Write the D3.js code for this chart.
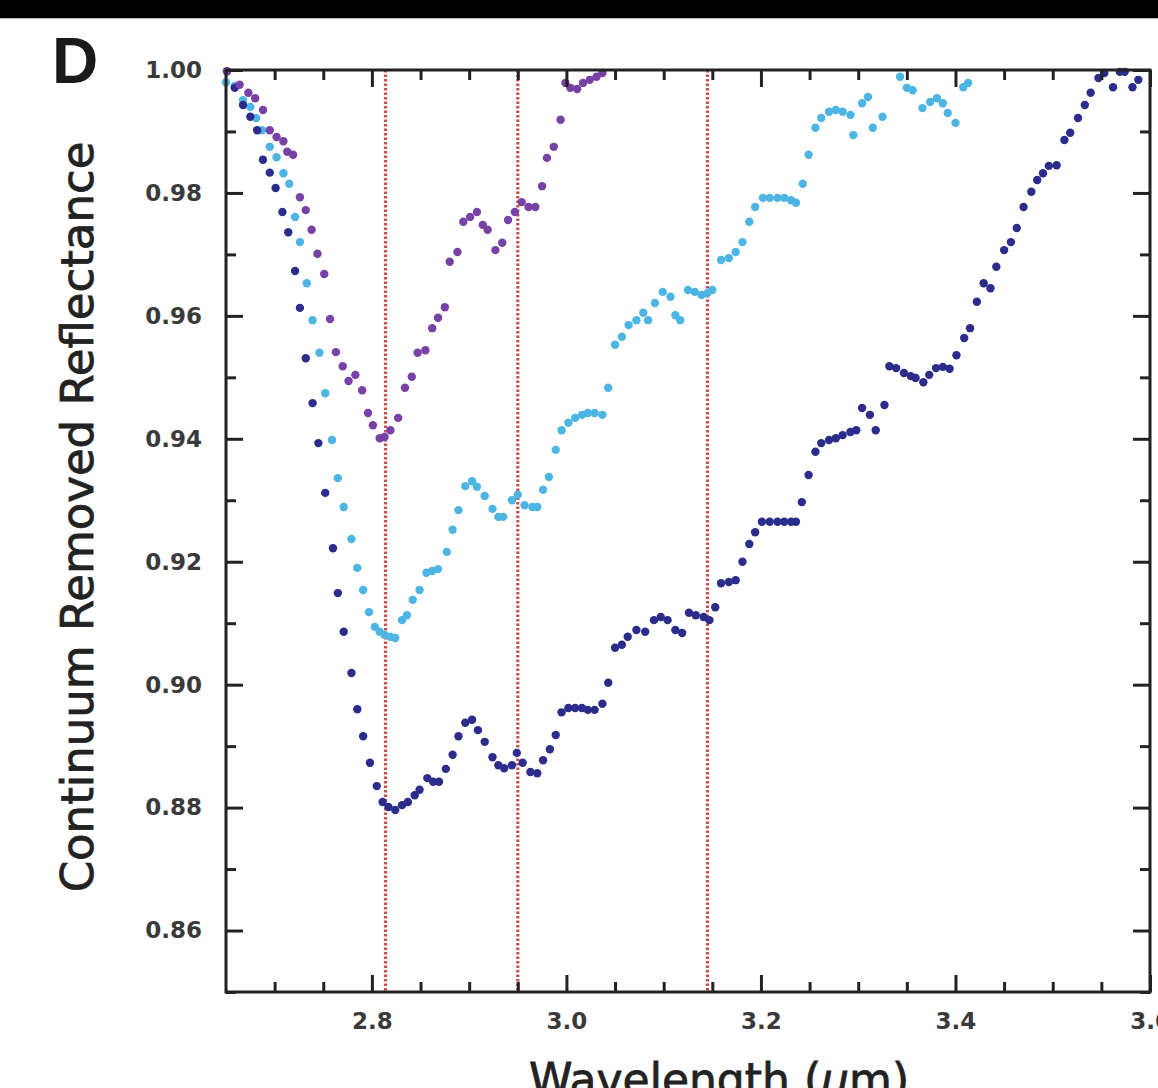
<!DOCTYPE html>
<html>
<head>
<meta charset="utf-8">
<script src="https://cdn.jsdelivr.net/npm/d3@7"></script>
<style>
  html, body { margin: 0; padding: 0; background: #ffffff; }
  svg { display: block; }
</style>
</head>
<body>
<div id="chart"></div>
<script>
// ---------- DATA ----------
const navyX = [2.651,2.659,2.6675,2.675,2.682,2.688,2.695,2.701,2.708,2.714,2.721,2.726,2.732,2.739,2.745,2.752,2.760,2.765,2.771,2.779,2.785,2.791,2.798,2.805,2.811,2.817,2.824,2.831,2.837,2.844,2.849,2.857,2.863,2.869,2.876,2.883,2.889,2.896,2.903,2.909,2.916,2.924,2.930,2.936,2.944,2.949,2.955,2.963,2.970,2.976,2.983,2.989,2.995,3.002,3.009,3.016,3.022,3.029,3.037,3.043,3.050,3.057,3.063,3.072,3.081,3.090,3.097,3.104,3.112,3.119,3.126,3.133,3.141,3.147,3.153,3.159,3.167,3.174,3.181,3.188,3.194,3.201,3.209,3.217,3.224,3.231,3.236,3.242,3.249,3.256,3.262,3.270,3.277,3.284,3.292,3.298,3.304,3.312,3.318,3.327,3.332,3.339,3.347,3.354,3.359,3.367,3.373,3.380,3.387,3.394,3.401,3.409,3.415,3.422,3.429,3.436,3.442,3.450,3.457,3.463,3.470,3.478,3.484,3.490,3.496,3.504,3.512,3.518,3.526,3.533,3.539,3.547,3.553,3.562,3.569,3.574,3.582,3.588];
const navyY = [0.9998,0.9971,0.9943,0.9924,0.9902,0.9854,0.9833,0.9808,0.9769,0.9736,0.9673,0.9613,0.9531,0.9458,0.9393,0.9312,0.9222,0.9149,0.9086,0.9019,0.8960,0.8916,0.8873,0.8835,0.8809,0.8801,0.8796,0.8804,0.8809,0.8820,0.8829,0.8848,0.8842,0.8842,0.8863,0.8886,0.8916,0.8938,0.8943,0.8926,0.8907,0.8882,0.8869,0.8864,0.8869,0.8889,0.8873,0.8858,0.8856,0.8877,0.8895,0.8918,0.8955,0.8962,0.8962,0.8962,0.8959,0.8959,0.8969,0.9003,0.9060,0.9065,0.9078,0.9089,0.9086,0.9105,0.9110,0.9105,0.9089,0.9084,0.9117,0.9113,0.9110,0.9105,0.9126,0.9165,0.9167,0.9170,0.9200,0.9229,0.9248,0.9265,0.9265,0.9265,0.9265,0.9265,0.9265,0.9297,0.9341,0.9379,0.9393,0.9398,0.9401,0.9406,0.9411,0.9414,0.9450,0.9439,0.9414,0.9455,0.9518,0.9515,0.9507,0.9502,0.9499,0.9492,0.9504,0.9515,0.9517,0.9514,0.9536,0.9564,0.9580,0.9623,0.9653,0.9645,0.9680,0.9707,0.9720,0.9743,0.9777,0.9802,0.9821,0.9832,0.9844,0.9845,0.9886,0.9898,0.9922,0.9943,0.9963,0.9987,0.9995,0.9972,0.9997,0.9997,0.9972,0.9984];

const cyanX = [2.650,2.659,2.6675,2.675,2.681,2.687,2.695,2.702,2.709,2.715,2.721,2.726,2.733,2.739,2.746,2.752,2.759,2.765,2.771,2.779,2.785,2.791,2.797,2.803,2.808,2.813,2.819,2.824,2.831,2.836,2.842,2.849,2.856,2.862,2.868,2.877,2.883,2.889,2.896,2.903,2.908,2.916,2.924,2.930,2.935,2.944,2.950,2.957,2.965,2.970,2.976,2.982,2.989,2.995,3.002,3.009,3.016,3.022,3.029,3.037,3.043,3.050,3.057,3.064,3.072,3.079,3.084,3.091,3.099,3.107,3.112,3.117,3.125,3.132,3.139,3.145,3.150,3.159,3.167,3.174,3.181,3.188,3.194,3.202,3.209,3.217,3.224,3.231,3.236,3.243,3.249,3.256,3.262,3.270,3.277,3.284,3.292,3.295,3.304,3.310,3.315,3.325,3.343,3.350,3.356,3.366,3.374,3.381,3.387,3.392,3.400,3.408,3.413];
const cyanY = [0.9980,0.9974,0.9951,0.9940,0.9922,0.9902,0.9875,0.9858,0.9832,0.9815,0.9761,0.9720,0.9653,0.9593,0.9540,0.9474,0.9398,0.9336,0.9289,0.9237,0.9190,0.9154,0.9118,0.9094,0.9086,0.9081,0.9078,0.9076,0.9105,0.9113,0.9138,0.9154,0.9182,0.9185,0.9188,0.9216,0.9252,0.9284,0.9323,0.9331,0.9322,0.9307,0.9286,0.9273,0.9273,0.9300,0.9309,0.9292,0.9289,0.9289,0.9317,0.9338,0.9382,0.9414,0.9426,0.9434,0.9439,0.9442,0.9442,0.9439,0.9483,0.9553,0.9566,0.9585,0.9593,0.9605,0.9593,0.9621,0.9639,0.9631,0.9601,0.9593,0.9642,0.9639,0.9634,0.9637,0.9642,0.9691,0.9694,0.9704,0.9720,0.9753,0.9777,0.9792,0.9792,0.9792,0.9792,0.9788,0.9784,0.9815,0.9862,0.9906,0.9922,0.9932,0.9935,0.9932,0.9927,0.9894,0.9946,0.9956,0.9906,0.9924,0.9989,0.9971,0.9967,0.9938,0.9948,0.9954,0.9946,0.9930,0.9914,0.9972,0.9979];

const purpleX = [2.651,2.664,2.673,2.680,2.688,2.695,2.702,2.709,2.713,2.719,2.726,2.732,2.738,2.744,2.751,2.757,2.763,2.770,2.776,2.783,2.790,2.796,2.801,2.808,2.813,2.819,2.827,2.834,2.841,2.847,2.855,2.862,2.868,2.875,2.880,2.888,2.894,2.901,2.908,2.914,2.919,2.927,2.934,2.940,2.947,2.954,2.961,2.968,2.975,2.980,2.987,2.994,2.999,3.004,3.011,3.017,3.024,3.031,3.037];
const purpleY = [0.9998,0.9976,0.9963,0.9954,0.9935,0.9902,0.9891,0.9884,0.9867,0.9862,0.9793,0.9772,0.9740,0.9701,0.9668,0.9595,0.9541,0.9518,0.9494,0.9504,0.9479,0.9442,0.9422,0.9401,0.9403,0.9414,0.9434,0.9483,0.9501,0.9540,0.9544,0.9580,0.9597,0.9614,0.9688,0.9704,0.9753,0.9761,0.9769,0.9748,0.9740,0.9707,0.9719,0.9756,0.9769,0.9785,0.9777,0.9777,0.9811,0.9857,0.9875,0.9919,0.9979,0.9971,0.9969,0.9979,0.9984,0.9989,0.9995];

const refLines = [2.814, 2.95, 3.145];

const xMajorTicks = [2.8, 3.0, 3.2, 3.4, 3.6];
const xMinorTicks = [2.70,2.75,2.85,2.90,2.95,3.05,3.10,3.15,3.25,3.30,3.35,3.45,3.50,3.55];
const yMajorTicks = [0.86, 0.88, 0.90, 0.92, 0.94, 0.96, 0.98, 1.00];
const yMinorTicks = [0.85, 0.87, 0.89, 0.91, 0.93, 0.95, 0.97, 0.99];

const seriesColors = { cyan: "#4db5e3", navy: "#2c2c8c", purple: "#7741a6" };

// ---------- LAYOUT ----------
const W = 1158, H = 1088;
const svg = d3.select("#chart").append("svg").attr("width", W).attr("height", H);

svg.append("rect").attr("x", 0).attr("y", 0).attr("width", W).attr("height", H).attr("fill", "#ffffff");
svg.append("rect").attr("x", 0).attr("y", 0).attr("width", W).attr("height", 18).attr("fill", "#000000");
svg.append("rect").attr("x", 0).attr("y", 18).attr("width", W).attr("height", 1).attr("fill", "#bbbbbb");

const x = d3.scaleLinear().domain([2.65, 3.6]).range([226, 1150]);
const y = d3.scaleLinear().domain([0.85, 1.00]).range([992, 70]);

// reference dotted lines
svg.append("g").selectAll("line").data(refLines).join("line")
  .attr("x1", d => x(d)).attr("x2", d => x(d))
  .attr("y1", y(1.0)).attr("y2", y(0.85))
  .attr("stroke", "#c9504a").attr("stroke-width", 3.2)
  .attr("stroke-dasharray", "2.5,2");

// points
function drawSeries(xs, ys, color) {
  const data = xs.map((v, i) => [v, ys[i]]);
  svg.append("g").selectAll("circle").data(data).join("circle")
    .attr("cx", d => x(d[0])).attr("cy", d => y(d[1]))
    .attr("r", 4.2).attr("fill", color);
}
drawSeries(cyanX, cyanY, seriesColors.cyan);
drawSeries(navyX, navyY, seriesColors.navy);
drawSeries(purpleX, purpleY, seriesColors.purple);

// axes
const axisColor = "#222222";
function styleAxis(g) {
  g.select(".domain").remove();
  g.selectAll(".tick line").attr("stroke", axisColor).attr("stroke-width", 3);
  g.selectAll(".tick text")
    .attr("fill", "#3a3a3a")
    .style("font-family", "'DejaVu Sans', sans-serif")
    .style("font-weight", "bold")
    .style("font-size", "23px");
}
const [x0, x1] = x.range();
const [yb, yt] = y.range();

// bottom
svg.append("g").attr("transform", `translate(0,${yb})`)
  .call(d3.axisBottom(x).tickValues(xMajorTicks).tickSize(-17).tickPadding(21).tickFormat(d3.format(".1f")))
  .call(styleAxis);
svg.append("g").attr("transform", `translate(0,${yb})`)
  .call(d3.axisBottom(x).tickValues(xMinorTicks).tickSize(-10).tickFormat(""))
  .call(styleAxis);
// top
svg.append("g").attr("transform", `translate(0,${yt})`)
  .call(d3.axisTop(x).tickValues(xMajorTicks).tickSize(-17).tickFormat(""))
  .call(styleAxis);
svg.append("g").attr("transform", `translate(0,${yt})`)
  .call(d3.axisTop(x).tickValues(xMinorTicks).tickSize(-10).tickFormat(""))
  .call(styleAxis);
// left
svg.append("g").attr("transform", `translate(${x0},0)`)
  .call(d3.axisLeft(y).tickValues(yMajorTicks).tickSize(-17).tickPadding(24).tickFormat(d3.format(".2f")))
  .call(styleAxis);
svg.append("g").attr("transform", `translate(${x0},0)`)
  .call(d3.axisLeft(y).tickValues(yMinorTicks).tickSize(-10).tickFormat(""))
  .call(styleAxis);
// right
svg.append("g").attr("transform", `translate(${x1},0)`)
  .call(d3.axisRight(y).tickValues(yMajorTicks).tickSize(-17).tickFormat(""))
  .call(styleAxis);
svg.append("g").attr("transform", `translate(${x1},0)`)
  .call(d3.axisRight(y).tickValues(yMinorTicks).tickSize(-10).tickFormat(""))
  .call(styleAxis);

// frame
svg.append("rect")
  .attr("x", x0).attr("y", yt).attr("width", x1 - x0).attr("height", yb - yt)
  .attr("fill", "none").attr("stroke", axisColor).attr("stroke-width", 3);

// panel letter
svg.append("text").attr("x", 52).attr("y", 83)
  .style("font-family", "'Liberation Sans', Arial, sans-serif")
  .style("font-weight", "bold").style("font-size", "64px")
  .attr("fill", "#1a1a1a").text("D");

// y label
svg.append("text")
  .attr("transform", "translate(93,517) rotate(-90)")
  .attr("text-anchor", "middle")
  .style("font-family", "'DejaVu Sans', sans-serif")
  .style("font-size", "45px")
  .attr("fill", "#222222").attr("stroke", "#222222").attr("stroke-width", 0.8)
  .text("Continuum Removed Reflectance");

// x label
const xl = svg.append("text")
  .attr("x", 719).attr("y", 1095)
  .attr("text-anchor", "middle")
  .style("font-family", "'DejaVu Sans', sans-serif")
  .style("font-size", "44px")
  .attr("fill", "#222222").attr("stroke", "#222222").attr("stroke-width", 0.8);
xl.append("tspan").text("Wavelength (");
xl.append("tspan").style("font-style", "italic").text("μ");
xl.append("tspan").text("m)");
</script>
</body>
</html>
